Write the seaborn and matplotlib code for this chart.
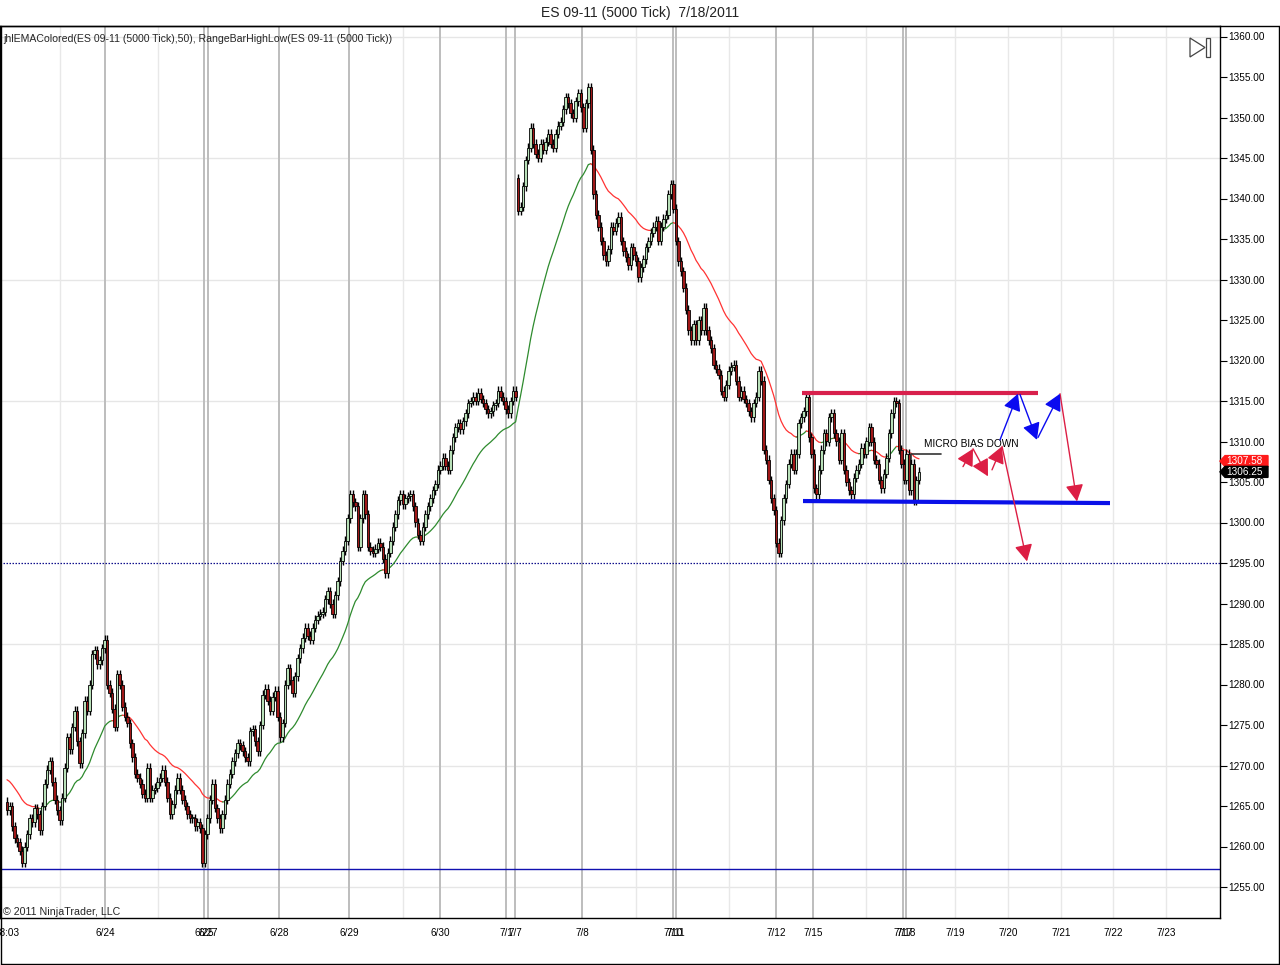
import numpy as np
import pandas as pd
import matplotlib
matplotlib.use("Agg")
import matplotlib.pyplot as plt
import seaborn as sns
from matplotlib.patches import Polygon, Rectangle
from matplotlib.lines import Line2D

# ---------------- data (range-bar closes) ----------------
closes_jun23_27 = [
    1264.5, 1265, 1262.5, 1261, 1260.5, 1259.5, 1258, 1260, 1261.5, 1263.5,
    1263, 1264.75, 1264, 1262, 1265, 1267.75, 1269.5, 1270.5, 1268, 1265.75,
    1264.5, 1263.25, 1266, 1269.75, 1273.5, 1272, 1274.75, 1276.75, 1273, 1270.25,
    1274, 1278, 1276.75, 1280, 1283.75, 1284.25, 1282.5, 1283, 1284.5, 1285.5, 1280,
    1279, 1277, 1274.75, 1281.25, 1280, 1277.25, 1276, 1275.25, 1272.75, 1271,
    1269, 1268.5, 1267.75, 1266.5, 1266, 1269.75, 1266, 1267, 1267.25, 1268, 1268.5,
    1269.5, 1268, 1266, 1264, 1265.25, 1267, 1268.5, 1267, 1265.75, 1265,
    1264, 1263.5, 1263.5, 1262.5, 1263, 1262.25, 1258, 1261.5, 1263.5, 1265.75, 1267.75,
    1264.75, 1263.5, 1262.25, 1264, 1265.75, 1267.75, 1269, 1270.5, 1271.5, 1272.75, 1272.5,
    1271.75, 1271, 1270.5, 1274.25, 1274.5, 1273, 1271.75,
]
closes_jun27_jul1 = [
    1275, 1278.75, 1279.5, 1278, 1276.75, 1278.5, 1279.25, 1276, 1273.5, 1275.25,
    1280, 1282, 1280.5, 1279, 1281, 1283.25, 1284.5, 1285.75, 1287, 1286,
    1285.5, 1287, 1288, 1288.5, 1288.75, 1289, 1290.5, 1291.5, 1290, 1288.75, 1291,
    1292.75, 1295.25, 1296.5, 1297.75, 1300.5, 1303.5, 1302.5, 1302, 1297, 1300.5,
    1303.5, 1301, 1297, 1296.5, 1296.25, 1296.75, 1297.5, 1297, 1295.5, 1293.75, 1296.25,
    1297.75, 1299.5, 1301, 1302.75, 1303.5, 1302.25, 1303, 1303.25, 1303.5, 1302, 1300,
    1298.5, 1297.75, 1299.5, 1301, 1302, 1303, 1304, 1304.75, 1306.5, 1307,
    1308, 1307, 1306.5, 1309, 1310.5, 1311.75, 1312.25, 1311.5, 1312.5, 1313.5,
    1314.75, 1315, 1315.5, 1315, 1316, 1315.25, 1314.75, 1314, 1313.5, 1313.75, 1314.5,
    1314.75, 1316.25, 1315.5, 1315, 1314, 1313.5, 1315, 1316.25, 1315.5,
]
closes_jul7_8 = [
    1338.5, 1339, 1341.5, 1344.75, 1346.25, 1348.75, 1346.75, 1345.5, 1345, 1346.75,
    1346, 1347, 1348, 1346.75, 1346.25, 1348, 1349, 1349.5,
    1351, 1352.5, 1351.75, 1350.5, 1350, 1352, 1353, 1351.25, 1348.75, 1351.75,
    1353.75, 1346, 1340.5, 1338, 1336.5, 1334.75, 1333, 1332.25, 1333.75, 1336.5,
    1336, 1337, 1337.75, 1334.75, 1333.5, 1332.75, 1331.75, 1334, 1333, 1332.25,
    1330.25, 1331.5, 1332.5, 1334, 1334.75, 1335.75, 1336.5, 1337.25, 1334.75, 1336.5,
    1337.5, 1338, 1340.5, 1341.75,
]
closes_jul11_18 = [
    1338.75, 1334.75, 1332.25, 1331, 1329, 1326.25, 1323.75, 1322.5, 1324.5,
    1322.5, 1325, 1323.75, 1326.5, 1323.75, 1322.5, 1321.5, 1319.5, 1319,
    1318.25, 1316.25, 1315.5, 1317, 1318.75, 1319.25, 1319.5, 1317.5, 1315.5,
    1316.25, 1315.25, 1314.75, 1313.75, 1313, 1314.75, 1315.5, 1318.75, 1317.5,
    1309, 1307.75, 1305.25, 1303, 1301.5, 1297.5, 1296.25, 1300.25, 1303, 1304.75,
    1307.25, 1308.5, 1306.5, 1308.5, 1312.25, 1313, 1313.75, 1315.5, 1310.5, 1308.5,
    1304.25, 1303.5, 1306.5, 1309, 1311, 1310, 1313, 1313.5, 1311, 1310,
    1307.75, 1311, 1306.5, 1305, 1304, 1303.5, 1305.5, 1306.5, 1307.25,
    1309.25, 1308.5, 1310, 1311.75, 1310, 1307.75, 1307.25, 1305.25, 1304.25,
    1306, 1308, 1311, 1313.5, 1315, 1314.75, 1309, 1307.25, 1305.25, 1308.5,
    1304, 1307.25, 1302.75, 1305.25, 1306.25,
]
first_open = 1265.5
gap_open_jul7 = 1342.5          # first bar of 7/7 opened with a gap
wick = 0.55
ema_seed = 1268.5
ema_period = 30                 # visual responsiveness of the plotted EMA

# horizontal reference lines
support_level = 1257.25
dotted_level = 1295.0
range_top = 1316.0
range_bottom = (1302.65, 1302.4)
micro_bias_level = 1308.5
ema_last_label = 1307.58
last_price = 1306.25

price_ticks = list(range(1255, 1361, 5))
grid_prices = list(range(1255, 1361, 15))

# x-axis labels (position on chart in px-like layout units)
major_ticks = [(7, "08:03"), (105, "6/24"), (204, "6/25"), (208, "6/27"), (279, "6/28"),
               (349, "6/29"), (440, "6/30"), (506, "7/1"), (515, "7/7"), (582, "7/8"),
               (673, "7/10"), (676, "7/11"), (776, "7/12"), (813, "7/15"),
               (903, "7/17"), (906, "7/18")]
future_ticks = [(955, "7/19"), (1008, "7/20"), (1061, "7/21"), (1113, "7/22"), (1166, "7/23")]
minor_ticks = [60, 158, 403, 636, 729, 866]

# drawn arrows: (x_start, price_start, x_end, price_end)
red_arrows = [(963, 1306.9, 973, 1309.1), (973, 1309.1, 988, 1305.7),
              (992, 1306.5, 1002, 1309.4), (1002, 1309.4, 1027, 1295.2),
              (1060, 1315.9, 1077, 1302.6)]
blue_arrows = [(1000, 1310.2, 1018, 1315.9), (1020, 1315.8, 1037, 1310.2),
               (1038, 1310.5, 1060, 1315.9)]

# ---------------- build OHLC ----------------
closes = np.array(closes_jun23_27 + closes_jun27_jul1 + closes_jul7_8 + closes_jul11_18, float)
N = len(closes)
opens = np.empty(N)
opens[0] = first_open
opens[1:] = closes[:-1]
gap_idx = len(closes_jun23_27) + len(closes_jun27_jul1)
opens[gap_idx] = gap_open_jul7
highs = np.maximum(opens, closes) + wick
lows = np.minimum(opens, closes) - wick
bars = np.arange(N)

# layout mapping: chart px (0..1220) -> bar units
FIRST_PX, LAST_PX = 7.0, 919.0
step = (LAST_PX - FIRST_PX) / (N - 1)
def px2bar(px):
    return (px - FIRST_PX) / step

# EMA
alpha = 2.0 / (ema_period + 1)
ema = np.empty(N)
prev = ema_seed
for i, c in enumerate(closes):
    prev = prev + alpha * (c - prev)
    ema[i] = prev

# ---------------- figure ----------------
sns.set_style("white")
plt.rcParams["font.family"] = ["Liberation Sans", "DejaVu Sans"]

W, H = 1280, 965
fig = plt.figure(figsize=(W / 100, H / 100), dpi=100)
ax_top, ax_bot, ax_right = 26, 918, 1220
ax = fig.add_axes([0, (H - ax_bot) / H, ax_right / W, (ax_bot - ax_top) / H])

ymax = 1360 + (36.5 - ax_top) / 8.1
ymin = 1360 - (ax_bot - 36.5) / 8.1
ax.set_ylim(ymin, ymax)
ax.set_xlim(px2bar(0), px2bar(ax_right))

# grid
for gp in grid_prices:
    ax.axhline(gp, color="#e6e6e6", lw=1.0, zorder=0)
for px in minor_ticks + [p for p, _ in future_ticks]:
    ax.axvline(px2bar(px), color="#e8e8e8", lw=1.0, zorder=0)
for px, _ in major_ticks[1:]:
    ax.axvline(px2bar(px), color="#bdbdbd", lw=1.4, zorder=0)

# reference lines
ax.axhline(support_level, color="#1010b0", lw=1.0, zorder=1)
ax.axhline(dotted_level, color="#10108c", lw=0.9, ls=(0, (1.2, 1.2)), zorder=1)

# EMA coloured by slope, drawn with seaborn
slope_up = np.r_[ema[0] >= ema_seed, ema[1:] >= ema[:-1]]
rows = []
run = 0
start = 0
for i in range(1, N + 1):
    if i == N or slope_up[i] != slope_up[start]:
        col = "#2e8b2e" if slope_up[start] else "#ff3333"
        for j in range(max(start - 1, 0), i):
            rows.append({"bar": j, "ema": ema[j], "run": run, "color": col})
        run += 1
        start = i
ema_df = pd.DataFrame(rows)
pal = {r: c for r, c in ema_df.groupby("run")["color"].first().items()}
sns.lineplot(data=ema_df, x="bar", y="ema", hue="run", palette=pal, units="run",
             estimator=None, sort=False, legend=False, lw=0.9, ax=ax, zorder=2)

# candles
up = closes >= opens
ax.vlines(bars, lows, highs, color="black", lw=1.0, zorder=3)
body_h = np.where(np.abs(closes - opens) < 0.2, 0.2, closes - opens)
ax.bar(bars, body_h, bottom=opens, width=1.0,
       color=np.where(up, "#b8e0b8", "#a01818"), edgecolor="black", linewidth=0.6, zorder=4)

# trading range lines
ax.plot([px2bar(802), px2bar(1038)], [range_top, range_top], color="#d8204c", lw=3, zorder=5,
        solid_capstyle="butt")
ax.plot([px2bar(803), px2bar(1110)], list(range_bottom), color="#0a10e8", lw=3, zorder=5,
        solid_capstyle="butt")

# micro bias line + text
ax.plot([px2bar(911), px2bar(911), px2bar(941)],
        [micro_bias_level - 0.6, micro_bias_level, micro_bias_level], color="#333333", lw=1.2, zorder=5)
ax.text(px2bar(924), micro_bias_level + 1.2, "MICRO BIAS DOWN", fontsize=7.3, color="black",
        va="center", ha="left", zorder=6)

# arrows
def arrow(a, color):
    x0, y0, x1, y1 = a
    ax.annotate("", xy=(px2bar(x1), y1), xytext=(px2bar(x0), y0),
                arrowprops=dict(arrowstyle="-|>,head_length=0.6,head_width=0.32",
                                mutation_scale=17, lw=1.0, color=color,
                                shrinkA=0, shrinkB=0), zorder=6)
for a in red_arrows:
    arrow(a, "#dc1e44")
for a in blue_arrows:
    arrow(a, "#0a0af0")

# axes styling
for s in ["top", "right", "bottom", "left"]:
    ax.spines[s].set_color("black")
    ax.spines[s].set_linewidth(1.0)
ax.yaxis.tick_right()
ax.set_yticks(price_ticks)
ax.set_yticklabels([f"{p:.2f}" for p in price_ticks])
ax.tick_params(axis="y", direction="out", length=5, width=0.8, pad=1, labelsize=7.2,
               colors="black", right=True, left=False)
all_major = major_ticks + future_ticks
ax.set_xticks([px2bar(p) for p, _ in all_major])
ax.set_xticklabels([t for _, t in all_major])
ax.set_xticks([px2bar(p) for p in minor_ticks], minor=True)
ax.tick_params(axis="x", which="both", direction="out", length=5, width=0.8, pad=2,
               labelsize=7.2, colors="black")
ax.set_xlabel("")
ax.set_ylabel("")

# price markers at right axis
tr = ax.get_yaxis_transform()
def marker(price, fc, txt):
    h = 0.68
    x_tip = 1.0
    x0 = 1225 / ax_right
    x1 = 1268 / ax_right
    poly = Polygon([(x_tip, price), (x0, price + h), (x1, price + h), (x1, price - h), (x0, price - h)],
                   closed=True, transform=tr, clip_on=False, facecolor=fc, edgecolor=fc, zorder=20)
    ax.add_patch(poly)
    ax.text(1226 / ax_right, price, txt, transform=tr, fontsize=7.2, color="white",
            va="center", ha="left", clip_on=False, zorder=21)
marker(ema_last_label, "#ff1a1a", f"{ema_last_label:.2f}")
marker(last_price, "black", f"{last_price:.2f}")

# texts
fig.text(640 / W, 1 - 13 / H, "ES 09-11 (5000 Tick)  7/18/2011", ha="center", va="center",
         fontsize=10, color="#222222")
ax.text(3 / ax_right, 1 - (39 - ax_top) / (ax_bot - ax_top),
        "jhlEMAColored(ES 09-11 (5000 Tick),50), RangeBarHighLow(ES 09-11 (5000 Tick))",
        transform=ax.transAxes, fontsize=7.6, va="center", ha="left", zorder=10)
ax.text(3 / ax_right, (ax_bot - 912) / (ax_bot - ax_top), "© 2011 NinjaTrader, LLC",
        transform=ax.transAxes, fontsize=7.7, va="center", ha="left", zorder=10)

# play-to-end icon
def fpx(x, y):
    return (x / W, 1 - y / H)
tri = Polygon([fpx(1190, 38), fpx(1190, 57), fpx(1205, 47.5)], closed=True, fill=False,
              edgecolor="#444444", lw=0.9, transform=fig.transFigure)
fig.add_artist(tri)
fig.add_artist(Rectangle(fpx(1206, 57), 4 / W, 19 / H, fill=False, edgecolor="#444444", lw=0.9,
                         transform=fig.transFigure))

# outer border
fig.add_artist(Line2D([0.5 / W, 0.5 / W], [1 - ax_top / H, 1 - 963.5 / H], color="black", lw=1,
                      transform=fig.transFigure))
fig.add_artist(Line2D([0.5 / W, 1278.5 / W], [1 - 963.5 / H, 1 - 963.5 / H], color="black", lw=1,
                      transform=fig.transFigure))
fig.add_artist(Line2D([1278.5 / W, 1278.5 / W], [1 - ax_top / H, 1 - 963.5 / H], color="black", lw=1,
                      transform=fig.transFigure))
fig.add_artist(Line2D([0, 1278.5 / W], [1 - ax_top / H, 1 - ax_top / H], color="black", lw=1,
                      transform=fig.transFigure))

fig.savefig("out.png", dpi=100, facecolor="white")
